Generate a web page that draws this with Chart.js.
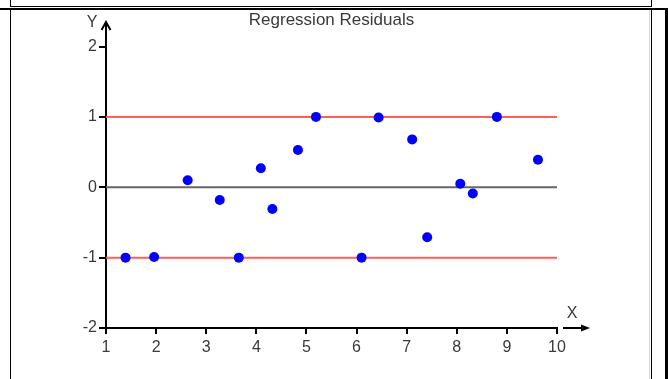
<!DOCTYPE html>
<html>
<head>
<meta charset="utf-8">
<title>Regression Residuals</title>
<script src="https://cdn.jsdelivr.net/npm/chart.js@4.4.1/dist/chart.umd.min.js"></script>
<style>
  html, body { margin: 0; padding: 0; background: #fff; }
  canvas { display: block; }
</style>
</head>
<body>
<canvas id="resid" width="668" height="379"></canvas>
<script>
// Residuals (x, residual)
const xValues = [1.39, 1.96, 2.63, 3.27, 3.65, 4.09, 4.32, 4.83, 5.19, 6.10, 6.44, 7.11, 7.41, 8.07, 8.32, 8.80, 9.62];
const residuals = [-1.0, -0.99, 0.10, -0.18, -1.0, 0.27, -0.31, 0.53, 1.0, -1.0, 0.99, 0.68, -0.71, 0.05, -0.09, 1.0, 0.39];

// Reference lines: zero line and +/- 1 band
const zeroLine = 0;
const bandLimits = [1, -1];
const xRange = [1, 10];
const yRange = [-2, 2];

const labelColor = "#3a3a3a";
Chart.defaults.font.family = "'Liberation Sans', Arial, sans-serif";

const hline = (y) => [{ x: xRange[0], y: y }, { x: xRange[1], y: y }];

// Frame around the plot, axis arrows and axis letters
const framePlugin = {
  id: "frame",
  beforeDraw(chart) {
    const ctx = chart.ctx;
    ctx.save();
    ctx.fillStyle = "#fff";
    ctx.fillRect(0, 0, chart.width, chart.height);
    ctx.restore();
  },
  afterDraw(chart) {
    const ctx = chart.ctx;
    const xs = chart.scales.x;
    const ys = chart.scales.y;
    const ax = xs.getPixelForValue(xRange[0]);
    const ay = ys.getPixelForValue(yRange[0]);
    const top = ys.getPixelForValue(yRange[1]);
    const right = xs.getPixelForValue(xRange[1]);
    ctx.save();

    // window borders
    ctx.fillStyle = "#000";
    ctx.fillRect(10, 0, 1, 7);
    ctx.fillRect(10, 6, 642, 1);
    ctx.fillRect(651, 0, 1, 7);
    ctx.fillRect(0, 8, chart.width, 2);
    ctx.fillRect(10, 10, 1, chart.height - 10);
    ctx.fillRect(651, 10, 1, chart.height - 10);
    ctx.fillRect(665, 8, 3, chart.height - 8);
    ctx.fillStyle = "#d8d8d8";
    ctx.fillRect(649, 10, 1, chart.height - 10);

    // y arrow
    ctx.strokeStyle = "#000";
    ctx.lineWidth = 2;
    ctx.beginPath();
    ctx.moveTo(ax, top);
    ctx.lineTo(ax, 22);
    ctx.moveTo(ax - 4.5, 30);
    ctx.lineTo(ax, 22);
    ctx.lineTo(ax + 4.5, 30);
    ctx.stroke();

    // x arrow
    ctx.beginPath();
    ctx.moveTo(right + 6, ay);
    ctx.lineTo(right + 26, ay);
    ctx.stroke();
    ctx.fillStyle = "#000";
    ctx.beginPath();
    ctx.moveTo(right + 33, ay);
    ctx.lineTo(right + 24, ay - 3.5);
    ctx.lineTo(right + 24, ay + 3.5);
    ctx.closePath();
    ctx.fill();

    // axis letters
    ctx.fillStyle = labelColor;
    ctx.font = "16px 'Liberation Sans', Arial, sans-serif";
    ctx.textAlign = "center";
    ctx.textBaseline = "middle";
    ctx.fillText("Y", 92, 23);
    ctx.fillText("X", right + 15, ay - 14);
    ctx.restore();
  }
};

new Chart(document.getElementById("resid"), {
  type: "scatter",
  plugins: [framePlugin],
  data: {
    datasets: [
      {
        data: xValues.map((x, i) => ({ x: x, y: residuals[i] })),
        backgroundColor: "#0000ff",
        borderWidth: 0,
        pointRadius: 5,
        pointHoverRadius: 5,
        order: 0
      },
      {
        type: "line",
        data: hline(bandLimits[0]),
        borderColor: "#ff5c5c",
        borderWidth: 2,
        pointRadius: 0,
        order: 1
      },
      {
        type: "line",
        data: hline(bandLimits[1]),
        borderColor: "#ff5c5c",
        borderWidth: 2,
        pointRadius: 0,
        order: 1
      },
      {
        type: "line",
        data: hline(zeroLine),
        borderColor: "#666666",
        borderWidth: 2,
        pointRadius: 0,
        order: 1
      }
    ]
  },
  options: {
    responsive: false,
    devicePixelRatio: 1,
    animation: false,
    layout: { padding: { left: 66, right: 111, top: 0, bottom: 21 } },
    plugins: {
      legend: { display: false },
      tooltip: { enabled: false },
      title: {
        display: true,
        fullSize: false,
        text: "Regression Residuals",
        color: labelColor,
        font: { size: 17, weight: "normal" },
        padding: { top: 10, bottom: 16.1 }
      }
    },
    scales: {
      x: {
        type: "linear",
        min: xRange[0],
        max: xRange[1],
        afterFit: (scale) => { scale.height = 30; },
        ticks: { stepSize: 1, color: labelColor, font: { size: 16 }, padding: 4 },
        grid: { drawOnChartArea: false, drawTicks: true, tickLength: 6, color: "#000", lineWidth: 2 },
        border: { color: "#000", width: 2 }
      },
      y: {
        min: yRange[0],
        max: yRange[1],
        afterFit: (scale) => { scale.width = 40; },
        ticks: { stepSize: 1, color: labelColor, font: { size: 16 }, padding: 2 },
        grid: { drawOnChartArea: false, drawTicks: true, tickLength: 7, color: "#000", lineWidth: 2 },
        border: { color: "#000", width: 2 }
      }
    }
  }
});
</script>
</body>
</html>
